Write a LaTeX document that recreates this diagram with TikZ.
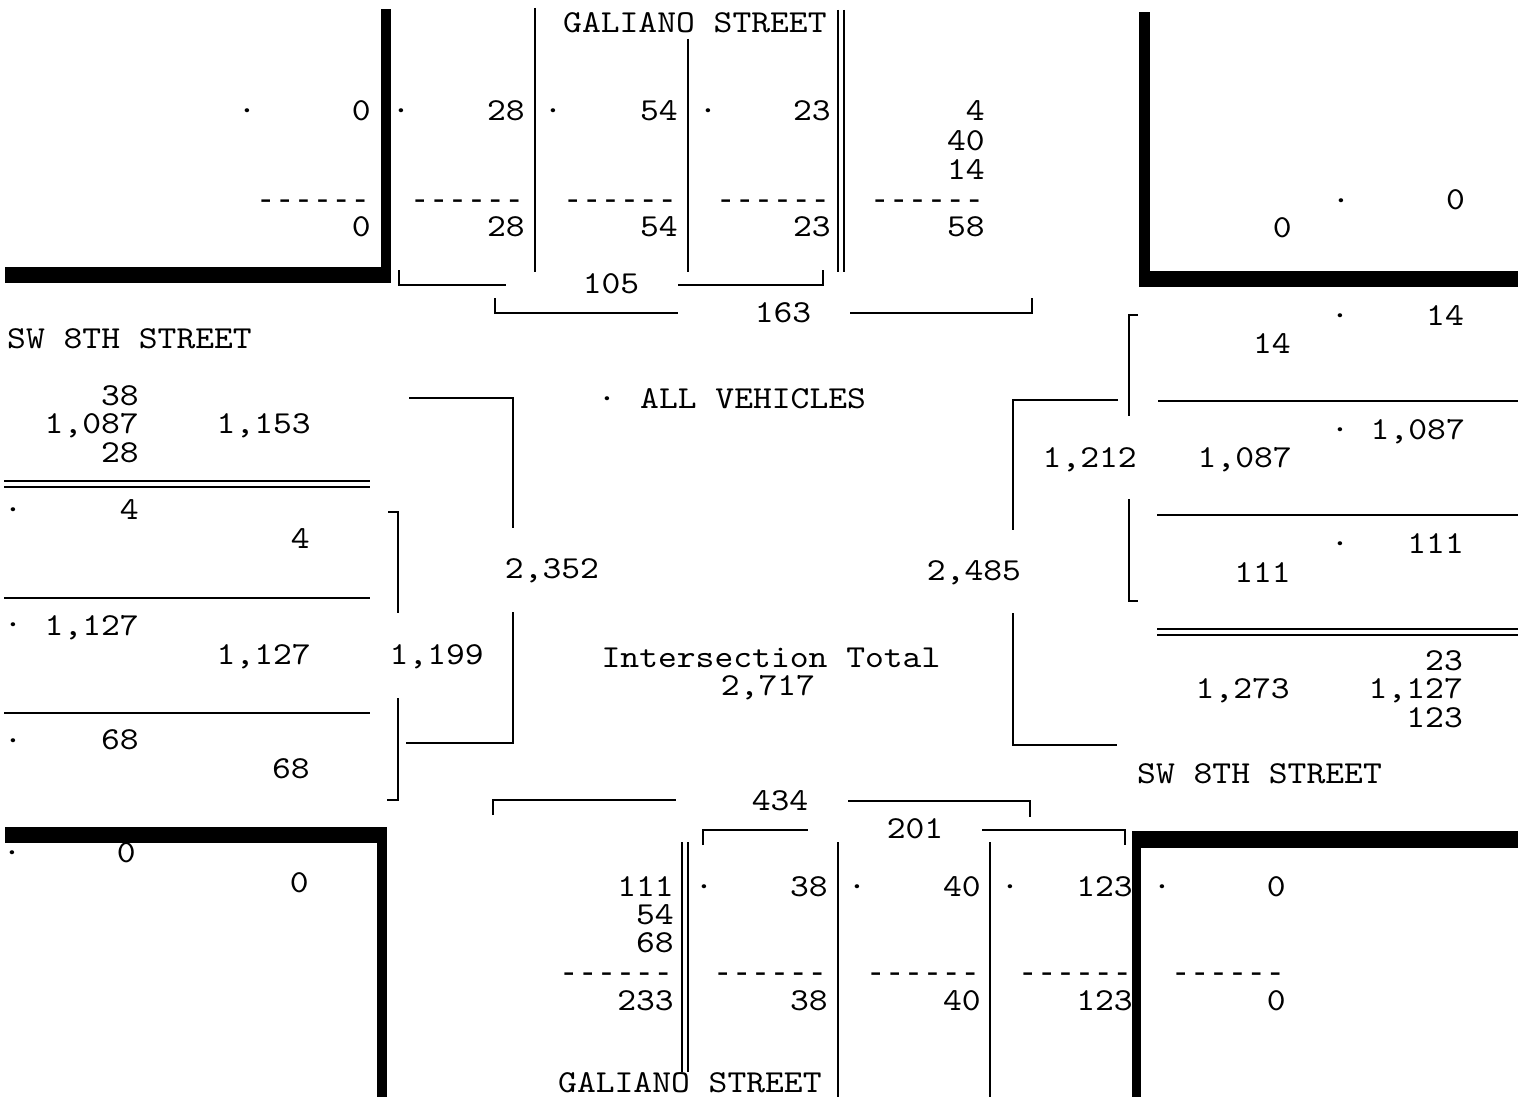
\documentclass[tikz,border=0pt]{standalone}
\usepackage{fontspec}
\newfontfamily\monoft{lmmono10-regular.otf}[FakeStretch=1.12]
\newfontfamily\dashft{Liberation Mono}
\tikzset{
  txt/.style={inner sep=0pt, font=\monoft\fontsize{32}{36}\selectfont},
  num/.style={txt, anchor=base east},
  dsh/.style={inner sep=0pt, anchor=base east, font=\dashft\fontsize{31.5}{36}\selectfont},
  lft/.style={txt, anchor=base west},
  mid/.style={txt, anchor=base},
  rule/.style={line width=1.8pt},
  wall/.style={fill=black, draw=none},
}
\newcommand\dashrow{-{}-{}-{}-{}-{}-}
\begin{document}
\begin{tikzpicture}[x=1pt,y=-1pt]
\useasboundingbox (0,0) rectangle (1518,1097);
% ---- kerb walls
\fill[wall] (381,9) rectangle (391,283);
\fill[wall] (5,267) rectangle (391,283);
\fill[wall] (1139,12) rectangle (1150,287);
\fill[wall] (1139,271) rectangle (1518,287);
\fill[wall] (5,827) rectangle (387,843);
\fill[wall] (377,827) rectangle (387,1097);
\fill[wall] (1132,831) rectangle (1518,848);
\fill[wall] (1132,831) rectangle (1141,1097);
% ---- top lane lines
\draw[rule] (535,8) -- (535,272);
\draw[rule] (688,39) -- (688,272);
\draw[rule] (838,10) -- (838,272);
\draw[rule] (844,10) -- (844,272);
% ---- top brackets
\draw[rule] (399,270) -- (399,285) -- (506,285);
\draw[rule] (678,285) -- (823,285) -- (823,270);
\draw[rule] (495,298) -- (495,313) -- (678,313);
\draw[rule] (850,313) -- (1032,313) -- (1032,298);
% ---- left lane lines
\draw[rule] (4,481) -- (370,481);
\draw[rule] (4,487) -- (370,487);
\draw[rule] (4,598) -- (370,598);
\draw[rule] (4,713) -- (370,713);
\draw[rule] (388,512) -- (398,512) -- (398,613);
\draw[rule] (398,698) -- (398,800) -- (387,800);
\draw[rule] (409,398) -- (513,398) -- (513,528);
\draw[rule] (513,612) -- (513,743) -- (406,743);
% ---- right lane lines
\draw[rule] (1118,400) -- (1013,400) -- (1013,530);
\draw[rule] (1013,613) -- (1013,745) -- (1117,745);
\draw[rule] (1138,315) -- (1129,315) -- (1129,416);
\draw[rule] (1129,499) -- (1129,601) -- (1138,601);
\draw[rule] (1158,401) -- (1518,401);
\draw[rule] (1157,515) -- (1518,515);
\draw[rule] (1157,629) -- (1518,629);
\draw[rule] (1157,635) -- (1518,635);
% ---- bottom brackets and lane lines
\draw[rule] (493,815) -- (493,800) -- (676,800);
\draw[rule] (848,801) -- (1030,801) -- (1030,817);
\draw[rule] (703,845) -- (703,830) -- (808,830);
\draw[rule] (982,830) -- (1125,830) -- (1125,845);
\draw[rule] (682,842) -- (682,1072);
\draw[rule] (688,842) -- (688,1072);
\draw[rule] (838,842) -- (838,1097);
\draw[rule] (990,842) -- (990,1097);
% ---- top approach texts
\node[lft] (gtop) at (563,33) {GALIANO STREET};
\node[mid] (td1) at (247,121) {·};
\node[num] (ta1) at (371,121) {0};
\node[dsh] (ta2) at (370,209) {\dashrow};
\node[num] (ta3) at (371,236) {0};
\node[mid] (td2) at (401,121) {·};
\node[num] (tb1) at (525,121) {28};
\node[dsh] (tb2) at (524,209) {\dashrow};
\node[num] (tb3) at (525,236) {28};
\node[mid] (td3) at (553,121) {·};
\node[num] (tc1) at (678,121) {54};
\node[dsh] (tc2) at (677,209) {\dashrow};
\node[num] (tc3) at (678,236) {54};
\node[mid] (td4) at (708,121) {·};
\node[num] (te1) at (831,121) {23};
\node[dsh] (te2) at (830,209) {\dashrow};
\node[num] (te3) at (831,236) {23};
\node[num] (tf1) at (985,121) {4};
\node[num] (tf2) at (985,150) {40};
\node[num] (tf3) at (985,179) {14};
\node[dsh] (tf4) at (984,209) {\dashrow};
\node[num] (tf5) at (985,236) {58};
\node[mid] (t105) at (611,293) {105};
\node[mid] (t163) at (783,322) {163};
% ---- top right corner
\node[mid] (trd) at (1341,210) {·};
\node[num] (tr1) at (1465,209) {0};
\node[num] (tr2) at (1292,237) {0};
% ---- left approach
\node[lft] (swl) at (7,348) {SW 8TH STREET};
\node[num] (l1) at (139,405) {38};
\node[num] (l2) at (139,433) {1,087};
\node[num] (l3) at (139,462) {28};
\node[num] (l4) at (311,433) {1,153};
\node[mid] (ld1) at (13,519) {·};
\node[num] (l5) at (139,519) {4};
\node[num] (l6) at (310,548) {4};
\node[mid] (ld2) at (13,634) {·};
\node[num] (l7) at (139,635) {1,127};
\node[num] (l8) at (311,664) {1,127};
\node[num] (l9) at (484,664) {1,199};
\node[mid] (ld3) at (13,750) {·};
\node[num] (l10) at (139,749) {68};
\node[num] (l11) at (310,778) {68};
\node[mid] (l12) at (552,578) {2,352};
% ---- centre
\node[mid] (cd) at (607,408) {·};
\node[lft] (call) at (640,408) {ALL VEHICLES};
\node[mid] (cit) at (771,667) {Intersection Total};
\node[mid] (ctot) at (768,695) {2,717};
\node[mid] (r0) at (974,580) {2,485};
% ---- right approach
\node[mid] (rd1) at (1340,325) {·};
\node[num] (r1) at (1464,325) {14};
\node[num] (r2) at (1291,353) {14};
\node[mid] (rd2) at (1340,439) {·};
\node[num] (r3) at (1465,439) {1,087};
\node[num] (r4) at (1292,467) {1,087};
\node[num] (r5) at (1137,467) {1,212};
\node[mid] (rd3) at (1340,553) {·};
\node[num] (r6) at (1464,553) {111};
\node[num] (r7) at (1291,582) {111};
\node[num] (r8) at (1463,670) {23};
\node[num] (r9) at (1463,698) {1,127};
\node[num] (r10) at (1463,727) {123};
\node[num] (r11) at (1290,698) {1,273};
\node[lft] (swr) at (1137,783) {SW 8TH STREET};
% ---- bottom approach
\node[mid] (b434) at (780,810) {434};
\node[mid] (b201) at (915,838) {201};
\node[num] (ba1) at (674,896) {111};
\node[num] (ba2) at (674,924) {54};
\node[num] (ba3) at (674,952) {68};
\node[dsh] (ba4) at (673,982) {\dashrow};
\node[num] (ba5) at (674,1010) {233};
\node[mid] (bd1) at (704,896) {·};
\node[num] (bb1) at (828,896) {38};
\node[dsh] (bb2) at (827,982) {\dashrow};
\node[num] (bb3) at (828,1010) {38};
\node[mid] (bd2) at (857,896) {·};
\node[num] (bc1) at (981,896) {40};
\node[dsh] (bc2) at (980,982) {\dashrow};
\node[num] (bc3) at (981,1010) {40};
\node[mid] (bd3) at (1010,896) {·};
\node[num] (be1) at (1133,896) {123};
\node[dsh] (be2) at (1132,982) {\dashrow};
\node[num] (be3) at (1133,1010) {123};
\node[mid] (bd4) at (1162,896) {·};
\node[num] (bf1) at (1286,896) {0};
\node[dsh] (bf2) at (1285,982) {\dashrow};
\node[num] (bf3) at (1286,1010) {0};
\node[lft] (gbot) at (558,1092) {GALIANO STREET};
% ---- bottom left corner
\node[mid] (bld) at (12,862) {·};
\node[num] (bl1) at (136,862) {0};
\node[num] (bl2) at (309,892) {0};
\end{tikzpicture}
\end{document}
